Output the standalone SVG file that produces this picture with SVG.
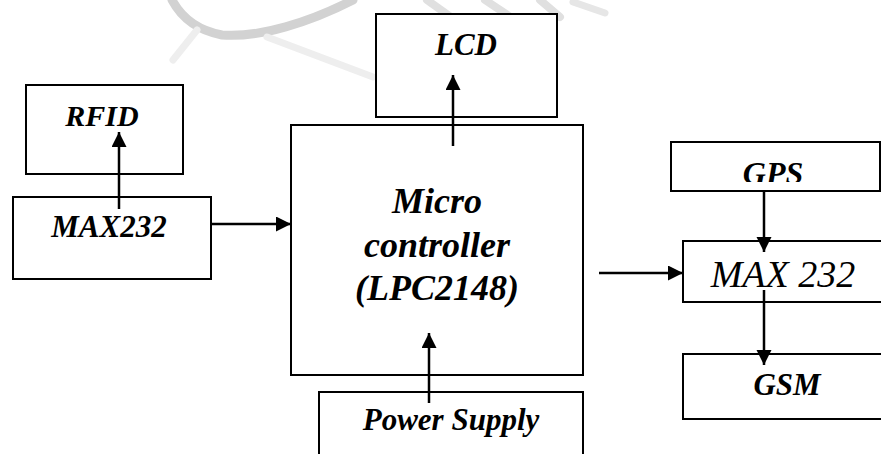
<svg xmlns="http://www.w3.org/2000/svg" width="881" height="454" viewBox="0 0 881 454">
<style>
.box{fill:#fff;stroke:#000;stroke-width:2}
.t{font-family:'Liberation Serif','DejaVu Serif','Times New Roman',serif;font-style:italic;font-weight:bold;text-anchor:middle;fill:#000}
.n{font-weight:normal}
.c{stroke:#000;stroke-width:2.5;fill:none;marker-end:url(#ah)}
.wm{fill:none;stroke-linecap:round}
</style>
<defs>
<marker id="ah" markerUnits="userSpaceOnUse" markerWidth="16" markerHeight="16" refX="15" refY="7.5" orient="auto">
<path d="M0,0 L15,7.5 L0,15 z" fill="#000"/>
</marker>
<clipPath id="gpsclip"><rect x="672" y="143" width="208" height="39"/></clipPath>
</defs>
<rect width="881" height="454" fill="#fff"/>
<g id="watermark">
<path class="wm" d="M172,0 C180,15 195,30 222,35 C260,38 310,22 353,0" stroke="#d2d2d2" stroke-width="9"/>
<path class="wm" d="M267,37 L373,77" stroke="#eeeeee" stroke-width="7"/>
<path class="wm" d="M173,60 L197,30" stroke="#eeeeee" stroke-width="7"/>
<path class="wm" d="M427,0 L455,20" stroke="#e0e0e0" stroke-width="8"/>
<path class="wm" d="M485,0 L515,20" stroke="#e0e0e0" stroke-width="8"/>
<path class="wm" d="M540,0 L560,17" stroke="#e0e0e0" stroke-width="8"/>
<path class="wm" d="M573,2 L605,13" stroke="#e6e6e6" stroke-width="7"/>
</g>
<g id="rfid"><rect class="box" x="26" y="85" width="157" height="89"/><text class="t" x="102" y="126" font-family="Liberation Serif, serif" font-size="30">RFID</text></g>
<g id="max232-left"><rect class="box" x="13" y="197" width="198" height="82"/><text class="t" x="109" y="237" font-size="31">MAX232</text></g>
<g id="lcd"><rect class="box" x="376" y="14" width="181" height="103"/><text class="t" x="466" y="55" font-size="31">LCD</text></g>
<g id="micro"><rect class="box" x="291" y="125" width="292" height="250"/>
<text class="t" x="437" y="213" font-size="36">Micro</text>
<text class="t" x="437" y="257" font-size="36">controller</text>
<text class="t" x="437" y="300" font-size="36">(LPC2148)</text></g>
<g id="power"><rect class="box" x="319" y="392" width="264" height="70"/><text class="t" x="451" y="430" font-size="31">Power Supply</text></g>
<g id="gps"><rect class="box" x="671" y="142" width="209" height="49"/><text class="t" x="773" y="184" font-size="32" clip-path="url(#gpsclip)">GPS</text></g>
<g id="max232-right"><rect class="box" x="683" y="241" width="210" height="61"/><text class="t n" x="783" y="287" font-size="38">MAX 232</text></g>
<g id="gsm"><rect class="box" x="683" y="354" width="210" height="65"/><text class="t" x="787" y="395" font-size="31">GSM</text></g>
<g id="connectors">
<path class="c" d="M119,209 V132"/>
<path class="c" d="M211,224 H291"/>
<path class="c" d="M453,146 V75"/>
<path class="c" d="M429,403 V333"/>
<path class="c" d="M599,273 H683"/>
<path class="c" d="M764,191 V252"/>
<path class="c" d="M764,290 V365"/>
</g>
</svg>
